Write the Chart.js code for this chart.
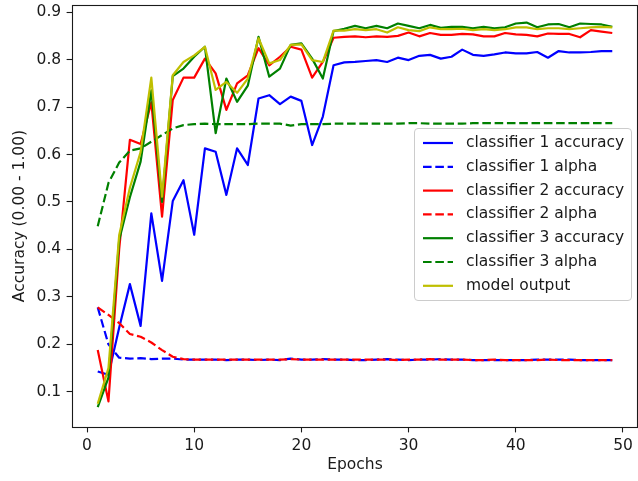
<!DOCTYPE html>
<html>
<head>
<meta charset="utf-8">
<script src="https://cdn.jsdelivr.net/npm/chart.js@4/dist/chart.umd.min.js"></script>
<style>
  html, body { margin: 0; padding: 0; background: #ffffff; }
  canvas { display: block; }
</style>
</head>
<body>
<canvas id="chart" width="638" height="481"></canvas>
<script>
// Training epochs
const epochs = [1, 2, 3, 4, 5, 6, 7, 8, 9, 10, 11, 12, 13, 14, 15, 16, 17, 18, 19, 20,
  21, 22, 23, 24, 25, 26, 27, 28, 29, 30, 31, 32, 33, 34, 35, 36, 37, 38, 39, 40,
  41, 42, 43, 44, 45, 46, 47, 48, 49];

// Per-classifier accuracy and ensemble weight (alpha) per epoch
const classifier1Accuracy = [0.143, 0.136, 0.235, 0.327, 0.239, 0.476, 0.334, 0.502, 0.546, 0.431,
  0.613, 0.606, 0.515, 0.613, 0.578, 0.718, 0.725, 0.706, 0.722, 0.713,
  0.620, 0.680, 0.788, 0.794, 0.795, 0.797, 0.799, 0.795, 0.804, 0.799,
  0.808, 0.810, 0.802, 0.806, 0.821, 0.810, 0.808, 0.811, 0.815, 0.813,
  0.813, 0.816, 0.804, 0.818, 0.815, 0.815, 0.816, 0.818, 0.818];
const classifier1Alpha = [0.278, 0.200, 0.172, 0.170, 0.171, 0.169, 0.170, 0.170, 0.168, 0.168,
  0.168, 0.168, 0.167, 0.168, 0.168, 0.167, 0.168, 0.167, 0.170, 0.168,
  0.168, 0.169, 0.168, 0.168, 0.167, 0.167, 0.168, 0.169, 0.168, 0.167,
  0.168, 0.168, 0.169, 0.168, 0.168, 0.167, 0.167, 0.167, 0.167, 0.167,
  0.167, 0.168, 0.168, 0.168, 0.168, 0.167, 0.167, 0.167, 0.167];
const classifier2Accuracy = [0.188, 0.080, 0.400, 0.631, 0.622, 0.710, 0.469, 0.715, 0.762, 0.762,
  0.802, 0.771, 0.694, 0.750, 0.767, 0.824, 0.788, 0.806, 0.827, 0.821,
  0.762, 0.795, 0.846, 0.848, 0.849, 0.847, 0.849, 0.848, 0.850, 0.857,
  0.849, 0.856, 0.852, 0.852, 0.854, 0.853, 0.849, 0.849, 0.856, 0.853,
  0.852, 0.849, 0.855, 0.854, 0.854, 0.847, 0.862, 0.859, 0.856];
const classifier2Alpha = [0.278, 0.262, 0.245, 0.222, 0.216, 0.204, 0.188, 0.174, 0.169, 0.168,
  0.168, 0.168, 0.168, 0.168, 0.168, 0.168, 0.168, 0.168, 0.169, 0.168,
  0.168, 0.168, 0.168, 0.168, 0.168, 0.168, 0.168, 0.168, 0.167, 0.168,
  0.168, 0.169, 0.168, 0.168, 0.168, 0.167, 0.167, 0.168, 0.167, 0.167,
  0.167, 0.167, 0.168, 0.167, 0.167, 0.167, 0.167, 0.167, 0.167];
const classifier3Accuracy = [0.068, 0.130, 0.420, 0.510, 0.585, 0.735, 0.500, 0.765, 0.781, 0.806,
  0.827, 0.645, 0.760, 0.711, 0.745, 0.848, 0.764, 0.781, 0.831, 0.834,
  0.802, 0.760, 0.860, 0.865, 0.871, 0.866, 0.871, 0.866, 0.876, 0.871,
  0.866, 0.873, 0.867, 0.869, 0.869, 0.866, 0.869, 0.866, 0.868, 0.876,
  0.878, 0.868, 0.874, 0.875, 0.868, 0.876, 0.875, 0.874, 0.869];
const classifier3Alpha = [0.449, 0.540, 0.583, 0.608, 0.613, 0.627, 0.641, 0.655, 0.662, 0.664,
  0.665, 0.664, 0.664, 0.664, 0.664, 0.665, 0.665, 0.665, 0.661, 0.664,
  0.664, 0.664, 0.665, 0.665, 0.665, 0.665, 0.665, 0.665, 0.665, 0.666,
  0.666, 0.665, 0.665, 0.665, 0.665, 0.666, 0.666, 0.666, 0.666, 0.666,
  0.666, 0.666, 0.666, 0.666, 0.666, 0.666, 0.666, 0.666, 0.666];
const modelOutput = [0.075, 0.150, 0.430, 0.530, 0.605, 0.762, 0.511, 0.767, 0.795, 0.809,
  0.827, 0.736, 0.753, 0.730, 0.760, 0.845, 0.792, 0.799, 0.831, 0.832,
  0.799, 0.795, 0.861, 0.861, 0.864, 0.862, 0.864, 0.857, 0.868, 0.862,
  0.860, 0.868, 0.864, 0.864, 0.865, 0.862, 0.864, 0.862, 0.864, 0.868,
  0.868, 0.864, 0.866, 0.866, 0.864, 0.866, 0.868, 0.869, 0.868];

// Axis tick labels
const xTicks = [0, 10, 20, 30, 40, 50];
const yTicks = [0.1, 0.2, 0.3, 0.4, 0.5, 0.6, 0.7, 0.8, 0.9];

const FONT = '"DejaVu Sans", "Liberation Sans", sans-serif';
const FONT_SIZE = 15.5;
const LINE_W = 2.2;
const DASH = [8.6, 3.7];
const INK = '#1a1a1a';

function points(values) {
  return epochs.map((e, i) => ({ x: e, y: values[i] }));
}

function series(label, values, color, dashed, order) {
  return {
    label: label,
    data: points(values),
    borderColor: color,
    backgroundColor: color,
    borderWidth: LINE_W,
    borderDash: dashed ? DASH : [],
    borderCapStyle: 'butt',
    borderJoinStyle: 'round',
    pointRadius: 0,
    pointHoverRadius: 0,
    tension: 0,
    fill: false,
    order: order
  };
}

// Frame around the plotting area (all four sides)
const framePlugin = {
  id: 'frame',
  afterDatasetsDraw(chart) {
    const { ctx, chartArea: a } = chart;
    ctx.save();
    ctx.strokeStyle = INK;
    ctx.lineWidth = 1.1;
    ctx.setLineDash([]);
    ctx.strokeRect(Math.round(a.left) + 0.5, Math.round(a.top) + 0.5,
      Math.round(a.right - a.left) - 1, Math.round(a.bottom - a.top));
    ctx.restore();
  }
};

// Legend with line samples, drawn from the dataset styles
const legendPlugin = {
  id: 'lineLegend',
  afterDraw(chart) {
    const ctx = chart.ctx;
    const boxX = 414.5, boxY = 128.5, boxW = 217, boxH = 172, r = 3.5;
    ctx.save();
    ctx.beginPath();
    ctx.moveTo(boxX + r, boxY);
    ctx.lineTo(boxX + boxW - r, boxY);
    ctx.arcTo(boxX + boxW, boxY, boxX + boxW, boxY + r, r);
    ctx.lineTo(boxX + boxW, boxY + boxH - r);
    ctx.arcTo(boxX + boxW, boxY + boxH, boxX + boxW - r, boxY + boxH, r);
    ctx.lineTo(boxX + r, boxY + boxH);
    ctx.arcTo(boxX, boxY + boxH, boxX, boxY + boxH - r, r);
    ctx.lineTo(boxX, boxY + r);
    ctx.arcTo(boxX, boxY, boxX + r, boxY, r);
    ctx.closePath();
    ctx.fillStyle = 'rgba(255,255,255,0.8)';
    ctx.fill();
    ctx.strokeStyle = '#cccccc';
    ctx.lineWidth = 1;
    ctx.stroke();

    ctx.font = FONT_SIZE + 'px ' + FONT;
    ctx.textBaseline = 'middle';
    ctx.textAlign = 'left';
    chart.data.datasets.forEach((ds, i) => {
      const cy = 143 + i * 23.8;
      ctx.beginPath();
      ctx.strokeStyle = ds.borderColor;
      ctx.lineWidth = LINE_W;
      ctx.setLineDash(ds.borderDash || []);
      ctx.moveTo(423, cy);
      ctx.lineTo(453, cy);
      ctx.stroke();
      ctx.setLineDash([]);
      ctx.fillStyle = INK;
      ctx.fillText(ds.label, 466, cy);
    });
    ctx.restore();
  }
};

Chart.defaults.font.family = FONT;
Chart.defaults.font.size = FONT_SIZE;
Chart.defaults.color = INK;

new Chart(document.getElementById('chart'), {
  type: 'line',
  data: {
    datasets: [
      series('classifier 1 accuracy', classifier1Accuracy, '#0000ff', false, 6),
      series('classifier 1 alpha', classifier1Alpha, '#0000ff', true, 5),
      series('classifier 2 accuracy', classifier2Accuracy, '#ff0000', false, 4),
      series('classifier 2 alpha', classifier2Alpha, '#ff0000', true, 3),
      series('classifier 3 accuracy', classifier3Accuracy, '#008000', false, 2),
      series('classifier 3 alpha', classifier3Alpha, '#008000', true, 1),
      series('model output', modelOutput, '#bfbf00', false, 0)
    ]
  },
  options: {
    responsive: false,
    animation: false,
    devicePixelRatio: 1,
    events: [],
    layout: { padding: { top: 5, left: 0, right: 0, bottom: 0 } },
    plugins: {
      legend: { display: false },
      tooltip: { enabled: false },
      title: { display: false }
    },
    scales: {
      x: {
        type: 'linear',
        min: -1.4,
        max: 51.4,
        afterBuildTicks(scale) { scale.ticks = xTicks.map(v => ({ value: v })); },
        afterFit(scale) { scale.height = 54; scale.paddingLeft = 0; scale.paddingRight = 0; },
        ticks: {
          autoSkip: false,
          maxRotation: 0,
          padding: 4,
          color: INK,
          font: { size: FONT_SIZE },
          callback: v => String(v)
        },
        grid: { display: true, drawOnChartArea: false, drawTicks: true, tickLength: 5.4, tickWidth: 1.1, tickColor: INK },
        border: { display: false },
        title: { display: true, text: 'Epochs', color: INK, font: { size: FONT_SIZE }, padding: { top: 0, bottom: 6.7 } }
      },
      y: {
        type: 'linear',
        min: 0.026,
        max: 0.915,
        afterBuildTicks(scale) { scale.ticks = yTicks.map(v => ({ value: v })); },
        afterFit(scale) { scale.width = 72; scale.paddingTop = 0; scale.paddingBottom = 0; },
        ticks: {
          autoSkip: false,
          padding: 5.4,
          color: INK,
          font: { size: FONT_SIZE },
          callback: v => Number(v).toFixed(1)
        },
        grid: { display: true, drawOnChartArea: false, drawTicks: true, tickLength: 5.4, tickWidth: 1.1, tickColor: INK },
        border: { display: false },
        title: { display: true, text: 'Accuracy (0.00 - 1.00)', color: INK, font: { size: FONT_SIZE }, padding: { top: 10.7, bottom: 0 } }
      }
    }
  },
  plugins: [framePlugin, legendPlugin]
});
</script>
</body>
</html>
